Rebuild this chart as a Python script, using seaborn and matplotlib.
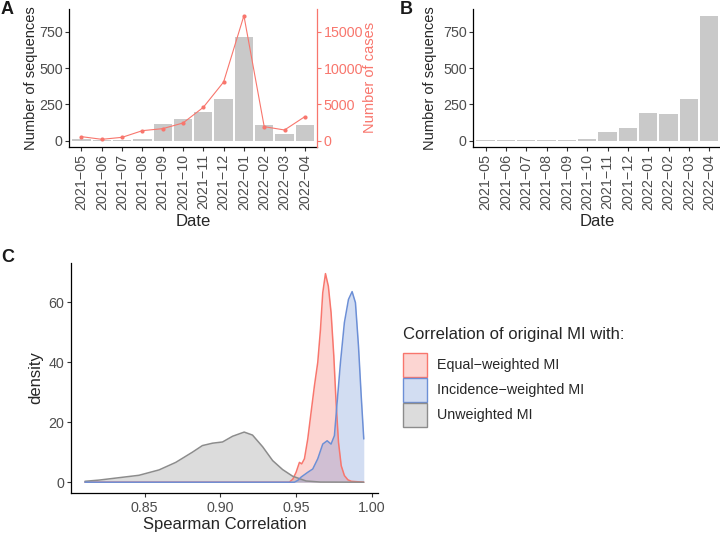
import numpy as np
import pandas as pd
import seaborn as sns
import matplotlib.pyplot as plt
from matplotlib.patches import Rectangle

# ---- data ----
months = ['2021\u221205', '2021\u221206', '2021\u221207', '2021\u221208', '2021\u221209', '2021\u221210',
          '2021\u221211', '2021\u221212', '2022\u221201', '2022\u221202', '2022\u221203', '2022\u221204']
seqs_a = [10, 7, 4, 9, 112, 149, 197, 287, 712, 108, 48, 106]
cases_a = [551, 184, 459, 1377, 1653, 2433, 4590, 8079, 17213, 1928, 1469, 3305]
seqs_b = [7, 7, 2, 5, 5, 14, 57, 85, 191, 184, 289, 861]

grey_x = [0.8105, 0.8198, 0.833, 0.8462, 0.8595, 0.8705, 0.8815, 0.8881, 0.8948, 0.9014, 0.908,
          0.9157, 0.9212, 0.9279, 0.9345, 0.9411, 0.9477, 0.9566, 0.966, 0.9947]
grey_y = [0.3, 0.7, 1.5, 2.3, 4.1, 6.6, 10.0, 12.2, 13.0, 13.4, 15.3,
          16.7, 15.7, 11.8, 7.2, 4.2, 2.0, 0.4, 0.05, 0.0]
red_x = [0.8105, 0.9455, 0.9478, 0.95, 0.9522, 0.9537, 0.9555, 0.9577, 0.9599, 0.9621, 0.9643, 0.9661,
         0.9676, 0.9694, 0.9713, 0.9731, 0.9749, 0.9764, 0.978, 0.9798, 0.9819, 0.9842, 0.9864, 0.9947]
red_y = [0, 0, 1.0, 3.3, 6.6, 6.1, 7.8, 14.4, 23.3, 32.1, 39.9, 50.9,
         63.1, 69.5, 65.3, 56.5, 42.1, 26.6, 13.3, 5.5, 2.2, 0.8, 0.3, 0]
blue_x = [0.8105, 0.9489, 0.9511, 0.9533, 0.9577, 0.961, 0.9643, 0.9676, 0.9705, 0.9731, 0.9753,
          0.9771, 0.9793, 0.9819, 0.9846, 0.987, 0.9892, 0.9912, 0.993, 0.9947]
blue_y = [0, 0, 0.6, 1.7, 3.3, 4.4, 7.8, 12.7, 13.8, 12.7, 15.5,
          26.6, 39.9, 53.2, 60.9, 63.5, 59.8, 45.4, 28.8, 14.4]

legend_labels = ['Equal\u2212weighted MI', 'Incidence\u2212weighted MI', 'Unweighted MI']

RED = '#F8766D'
BLUE = '#6C8FD6'
GREY = '#8C8C8C'
BAR = '#C9C9C9'
TXT = '#4D4D4D'
TICK_FS = 10.3

sns.set_theme(style='ticks')
plt.rcParams['font.family'] = ['Liberation Sans', 'DejaVu Sans']

W, H = 720, 534
fig = plt.figure(figsize=(7.2, 5.34), dpi=100)
fig.patch.set_facecolor('white')


def box(x0, y0, x1, y1):
    return [x0 / W, 1 - y1 / H, (x1 - x0) / W, (y1 - y0) / H]


def ftext(x, y, s, **kw):
    fig.text(x / W, 1 - y / H, s, ha=kw.pop('ha', 'center'), va=kw.pop('va', 'center'), **kw)


def classic(ax):
    for side in ['top', 'right']:
        ax.spines[side].set_visible(False)
    for side in ['left', 'bottom']:
        ax.spines[side].set_color('black')
        ax.spines[side].set_linewidth(0.9)
    ax.tick_params(length=3, width=0.8, color='#333333', labelcolor=TXT, labelsize=TICK_FS, pad=1.8)
    ax.set_facecolor('white')
    ax.grid(False)
    ax.set_xlabel('')
    ax.set_ylabel('')


def bar_panel(ax, values):
    sns.barplot(x=months, y=values, color=BAR, saturation=1, width=0.9, linewidth=0, ax=ax)
    ax.set_xlim(-0.6, 11.6)
    ax.set_ylim(-43, 904)
    ax.set_yticks([0, 250, 500, 750])
    ax.set_xticks(range(len(months)))
    ax.set_xticklabels(months, rotation=90)
    classic(ax)


# ---- panel A ----
axA = fig.add_axes(box(69.3, 9.4, 317.0, 146.9))
bar_panel(axA, seqs_a)
axA2 = axA.twinx()
sns.lineplot(x=np.arange(len(months)), y=cases_a, ax=axA2, color=RED, linewidth=0.8,
             marker='o', markersize=3, markeredgewidth=0)
axA2.set_ylim(-860, 18080)
axA2.set_yticks([0, 5000, 10000, 15000])
for side in ['top', 'left', 'bottom']:
    axA2.spines[side].set_visible(False)
axA2.spines['right'].set_color(RED)
axA2.spines['right'].set_linewidth(0.9)
axA2.tick_params(axis='y', length=3, width=0.8, color=RED, labelcolor=RED, labelsize=TICK_FS, pad=1.6)
axA2.set_ylabel('')
axA.set_xlim(-0.6, 11.6)
axA.set_xticks(range(len(months)))
axA.set_xticklabels(months, rotation=90)

# ---- panel B ----
axB = fig.add_axes(box(473.3, 9.4, 721.5, 146.9))
bar_panel(axB, seqs_b)

# ---- panel C ----
axC = fig.add_axes(box(71, 262.5, 377.7, 492.7))
for xs, ys, c in [(red_x, red_y, RED), (grey_x, grey_y, GREY), (blue_x, blue_y, BLUE)]:
    axC.fill_between(xs, ys, color=c, alpha=0.3, linewidth=0)
    sns.lineplot(x=xs, y=ys, ax=axC, color=c, linewidth=1.1, estimator=None, sort=False)
axC.set_xlim(0.8013, 1.0039)
axC.set_ylim(-3.5, 73.2)
axC.set_xticks([0.85, 0.90, 0.95, 1.00])
axC.set_xticklabels(['0.85', '0.90', '0.95', '1.00'])
axC.set_yticks([0, 20, 40, 60])
classic(axC)
axC.tick_params(axis='x', pad=3)

# ---- titles ----
ftext(31, 78, 'Number of sequences', rotation=90, fontsize=10.5)
ftext(430, 78, 'Number of sequences', rotation=90, fontsize=10.5)
ftext(370.5, 77, 'Number of cases', rotation=90, fontsize=10.5, color=RED)
ftext(193.2, 221.5, 'Date', fontsize=12)
ftext(597, 221.5, 'Date', fontsize=12)
ftext(224.4, 525, 'Spearman Correlation', fontsize=12)
ftext(36, 377.6, 'density', rotation=90, fontsize=12)

ftext(6.7, 10, 'A', fontsize=13, fontweight='bold', color='#1a1a1a')
ftext(406.7, 9.5, 'B', fontsize=13, fontweight='bold', color='#1a1a1a')
ftext(7.5, 257.5, 'C', fontsize=13, fontweight='bold', color='#1a1a1a')

# ---- legend for panel C ----
ftext(402.7, 334.5, 'Correlation of original MI with:', ha='left', fontsize=12)
key_top = [352.7, 378.0, 403.3]
for top, lab, c in zip(key_top, legend_labels, [RED, BLUE, GREY]):
    fig.patches.append(Rectangle((402.7 / W, 1 - (top + 24) / H), 24 / W, 24 / H,
                                 transform=fig.transFigure, facecolor=c, alpha=0.3,
                                 edgecolor='none'))
    fig.patches.append(Rectangle((402.7 / W, 1 - (top + 24) / H), 24 / W, 24 / H,
                                 transform=fig.transFigure, facecolor='none',
                                 edgecolor=c, linewidth=1.0))
    ftext(436.7, top + 12, lab, ha='left', fontsize=10.3)

fig.savefig('out.png', dpi=100)
